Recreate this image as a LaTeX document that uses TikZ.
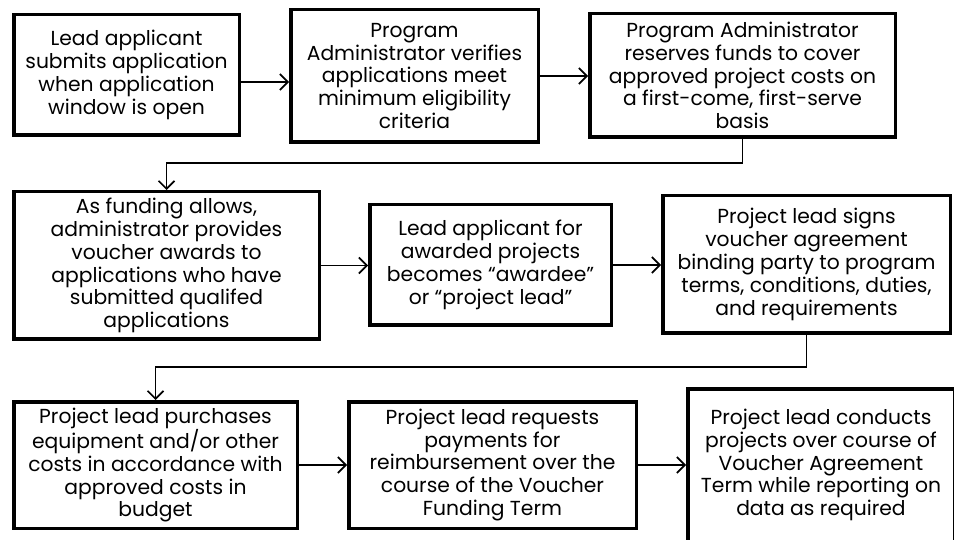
\documentclass[tikz,border=0pt]{standalone}
\usepackage{fontspec}
\setmainfont{Poppins}
\usetikzlibrary{arrows.meta}
\begin{document}
\begin{tikzpicture}[x=1pt,y=-1pt,
  stepbox/.style={draw, line width=3.5pt, inner sep=3pt, align=center,
    font=\fontsize{20.3}{22.8}\selectfont},
  flow/.style={line width=1.6pt, -{Straight Barb[length=8pt,width=16pt]}}]
\useasboundingbox (0,0) rectangle (954,540);
\clip (0,0) rectangle (954,540);
\node[stepbox, minimum width=225.5pt, minimum height=120.5pt] (b1) at (126.5,75)
  {Lead applicant\\submits application\\when application\\window is open};
\node[stepbox, minimum width=247.5pt, minimum height=132.5pt] (b2) at (414.5,76)
  {Program\\Administrator verifies\\applications meet\\minimum eligibility\\criteria};
\node[stepbox, minimum width=305.5pt, minimum height=123.5pt] (b3) at (742.5,75.5)
  {Program Administrator\\reserves funds to cover\\approved project costs on\\a first-come, first-serve\\basis};
\node[stepbox, minimum width=305.5pt, minimum height=147.5pt] (b4) at (166.5,265.5)
  {As funding allows,\\administrator provides\\voucher awards to\\applications who have\\submitted qualifed\\applications};
\node[stepbox, minimum width=241.5pt, minimum height=120.5pt] (b5) at (490.5,265)
  {Lead applicant for\\awarded projects\\becomes “awardee”\\or “project lead”};
\node[stepbox, minimum width=287.5pt, minimum height=137.5pt] (b6) at (806.5,264.5)
  {Project lead signs\\voucher agreement\\binding party to program\\terms, conditions, duties,\\and requirements};
\node[stepbox, minimum width=283.5pt, minimum height=126.5pt] (b7) at (155.5,465)
  {Project lead purchases\\equipment and/or other\\costs in accordance with\\approved costs in\\budget};
\node[stepbox, minimum width=287.5pt, minimum height=126.5pt] (b8) at (492.5,465)
  {Project lead requests\\payments for\\reimbursement over the\\course of the Voucher\\Funding Term};
\node[stepbox, minimum width=266.5pt, minimum height=152.5pt] (b9) at (821,465)
  {Project lead conducts\\projects over course of\\Voucher Agreement\\Term while reporting on\\data as required};
\draw[flow] ([yshift=-7pt]b1.east) -- ([yshift=-7pt]b1.east -| b2.west);
\draw[flow] (b2.east) -- (b2.east -| b3.west);
\draw[flow] (b3.south) -- ++(0,24) -| (b4.north);
\draw[flow] (b4.east) -- (b4.east -| b5.west);
\draw[flow] (b5.east) -- (b5.east -| b6.west);
\draw[flow] (b6.south) -- ++(0,32) -| (b7.north);
\draw[flow] (b7.east) -- (b7.east -| b8.west);
\draw[flow] (b8.east) -- (b8.east -| b9.west);
\end{tikzpicture}
\end{document}
